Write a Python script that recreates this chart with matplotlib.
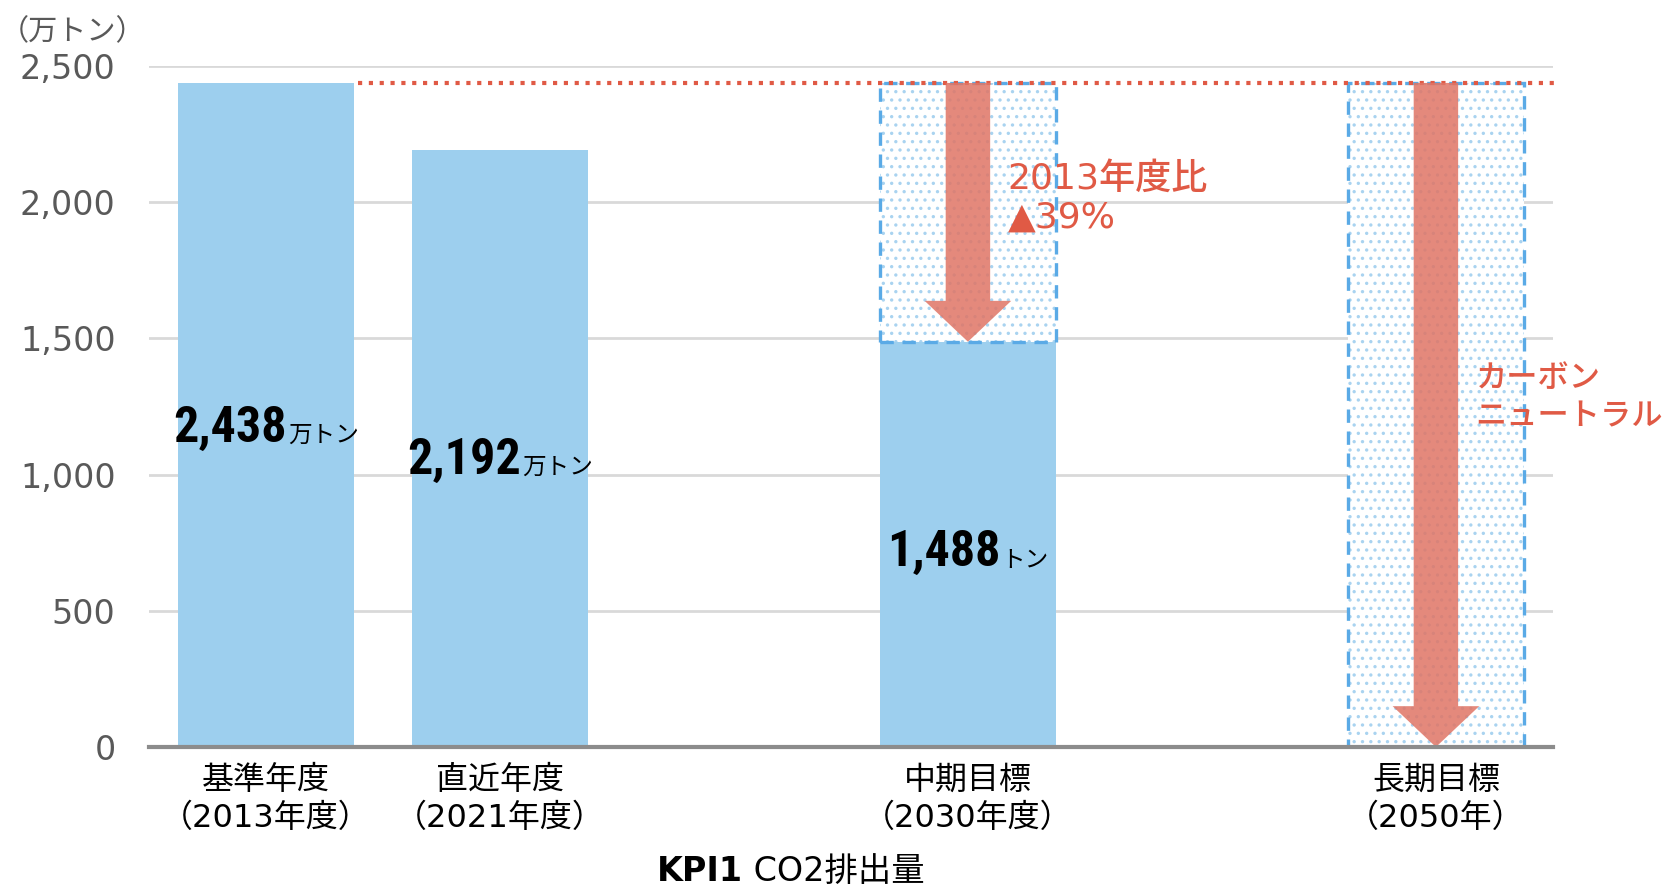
import matplotlib
matplotlib.use("Agg")
import matplotlib.pyplot as plt
from matplotlib import font_manager as fm
from matplotlib.offsetbox import TextArea, HPacker, AnnotationBbox
from matplotlib.ticker import FuncFormatter

plt.rcParams['font.family'] = ['Noto Sans CJK JP', 'DejaVu Sans']
plt.rcParams['hatch.linewidth'] = 1.2

# ---- data ----
categories = ["基準年度\n（2013年度）", "直近年度\n（2021年度）", "中期目標\n（2030年度）", "長期目標\n（2050年）"]
slots = [0, 1, 3, 5]
values = [2438, 2192, 1488, 0]
base_value = 2438
value_nums = ["2,438", "2,192", "1,488"]
value_units = ["万トン", "万トン", "トン"]
yticks = [0, 500, 1000, 1500, 2000, 2500]
target_idx = [2, 3]
note_2030 = "2013年度比\n▲39%"
note_2050 = "カーボン\nニュートラル"
title_bold = "KPI1"
title_rest = " CO2排出量"

BAR = "#9DCFEE"
EDGE = "#5AAAE6"
DOT = "#A9D3F0"
ARROW = "#E07565"
RED = "#E05A45"
MIX = ['DejaVu Sans', 'Noto Sans CJK JP']


def has_font(name):
    try:
        fm.findfont(fm.FontProperties(family=name), fallback_to_default=False)
        return True
    except Exception:
        return False


narrow = None
for cand in ['Roboto Condensed', 'Liberation Sans Narrow', 'Open Sans Condensed', 'DejaVu Sans Condensed']:
    if has_font(cand):
        narrow = cand
        break
if narrow:
    num_family, num_size = [narrow, 'Roboto'], 36
else:
    num_family, num_size = ['Roboto', 'DejaVu Sans'], 31

fig = plt.figure(figsize=(16.68, 8.89), dpi=100)
ax = fig.add_axes([0.0893, 0.1597, 0.8417, 0.766])
w = 0.75

# target boxes (dotted fill + dashed outline)
for i in target_idx:
    x = slots[i]
    ax.bar(x, base_value - values[i], bottom=values[i], width=w, color="white",
           edgecolor=DOT, hatch="..", linewidth=0, zorder=2)
    ax.bar(x, base_value - values[i], bottom=values[i], width=w, fill=False,
           edgecolor=EDGE, linestyle=(0, (4, 2.6)), linewidth=2.4, zorder=4)

# actual bars
ax.bar(slots, values, width=w, color=BAR, linewidth=0, zorder=3)

# reference dotted line
ax.hlines(base_value, slots[0] + w / 2 + 0.02, 5.51, colors=RED, linestyles=(0, (1, 1.6)),
          linewidth=3, zorder=5, clip_on=False)

# arrows
for i in target_idx:
    x = slots[i]
    ax.arrow(x, base_value, 0, values[i] - base_value, width=0.19, head_width=0.37,
             head_length=150, length_includes_head=True, color=ARROW, alpha=0.85,
             linewidth=0, zorder=6)

# bar value labels
for i in range(3):
    num = TextArea(value_nums[i], textprops=dict(family=num_family, fontweight='bold',
                                                  fontsize=num_size, color='black'))
    unit = TextArea(value_units[i], textprops=dict(fontsize=17, color='black'))
    box = HPacker(children=[num, unit], align='baseline', pad=0, sep=1)
    ab = AnnotationBbox(box, (slots[i], values[i] * 0.48), frameon=False,
                        box_alignment=(0.5, 0.5), zorder=7)
    ax.add_artist(ab)

# notes
ax.text(3.17, 2015, note_2030, color=RED, fontsize=26, va='center', ha='left',
        linespacing=1.15, zorder=8, family=MIX, fontweight='medium')
ax.text(5.17, 1285, note_2050, color=RED, fontsize=22.5, va='center', ha='left',
        linespacing=1.25, zorder=8, fontweight='medium')

# axes styling
ax.set_xlim(-0.5, 5.5)
ax.set_ylim(0, 2500)
ax.set_yticks(yticks)
ax.yaxis.set_major_formatter(FuncFormatter(lambda v, p: f"{int(v):,}"))
ax.set_xticks(slots)
ax.set_xticklabels(categories, fontsize=23, linespacing=1.3, family=MIX)
for lab in ax.get_yticklabels():
    lab.set_family('DejaVu Sans')
ax.tick_params(axis='y', length=0, pad=24, labelsize=24, labelcolor='#595959')
ax.tick_params(axis='x', length=0, pad=13, labelcolor='black')
ax.grid(axis='y', color='#D9D9D9', linewidth=2, zorder=0)
ax.set_axisbelow(True)
for s in ['top', 'right', 'left']:
    ax.spines[s].set_visible(False)
ax.spines['bottom'].set_color('#8C8C8C')
ax.spines['bottom'].set_linewidth(3)
ax.spines['bottom'].set_zorder(9)

fig.text(0.0, 0.964, "（万トン）", fontsize=21, color='#595959', va='center', ha='left')
tb = TextArea(title_bold, textprops=dict(fontsize=24, fontweight='bold', color='black', family=MIX))
tr = TextArea(title_rest, textprops=dict(fontsize=24, color='black', family=MIX))
tbox = HPacker(children=[tb, tr], align='baseline', pad=0, sep=0)
fig.add_artist(AnnotationBbox(tbox, (0.474, 0.020), xycoords='figure fraction',
                              frameon=False, box_alignment=(0.5, 0.5)))

fig.savefig("out.png", dpi=100)
